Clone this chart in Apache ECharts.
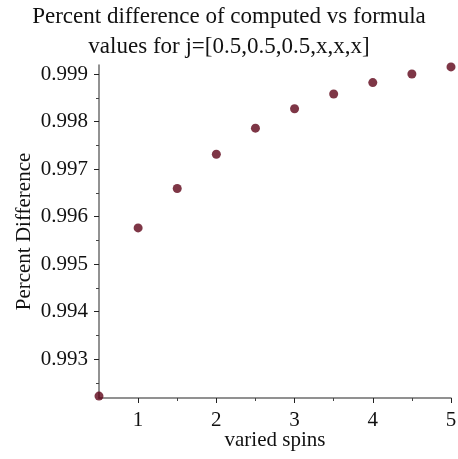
<!DOCTYPE html>
<html><head><meta charset="utf-8">
<script src="https://cdn.jsdelivr.net/npm/echarts@6/dist/echarts.min.js"></script>
<style>html,body{margin:0;padding:0;background:#fff}#c{width:458px;height:459px}</style>
</head><body><div id="c"></div>
<script>
const xValues = [0.5, 1, 1.5, 2, 2.5, 3, 3.5, 4, 4.5, 5];
const yValues = [0.99222, 0.99576, 0.99659, 0.99731, 0.99786, 0.99827, 0.99858, 0.99882, 0.99900, 0.99915];
const xMajorTicks = [1, 2, 3, 4, 5];
const xMinorTicks = [1.5, 2.5, 3.5, 4.5];
const yMajorTicks = [0.993, 0.994, 0.995, 0.996, 0.997, 0.998, 0.999];
const yMinorTicks = [0.9925, 0.9935, 0.9945, 0.9955, 0.9965, 0.9975, 0.9985];
const titleText = 'Percent difference of computed vs formula\nvalues for j=[0.5,0.5,0.5,x,x,x]';
const xName = 'varied spins';
const yName = 'Percent Difference';

const font = 'Liberation Serif';
const axisColor = '#6e6e6e';
const X_MIN = 0.5, X_MAX = 5, Y_MIN = 0.99218, Y_MAX = 0.99919;

const chart = echarts.init(document.getElementById('c'), null, {renderer: 'canvas'});
const baseX = {
  type: 'value', min: X_MIN, max: X_MAX, position: 'bottom',
  splitLine: {show: false}
};
const baseY = {
  type: 'value', min: Y_MIN, max: Y_MAX, position: 'left',
  splitLine: {show: false}
};
chart.setOption({
  animation: false,
  backgroundColor: '#fff',
  title: {
    text: titleText, left: 'center', top: -3,
    textStyle: {fontFamily: font, fontSize: 23, fontWeight: 'normal', color: '#111', lineHeight: 30}
  },
  grid: {left: 99, right: 7, top: 65, bottom: 61, containLabel: false, outerBoundsMode: 'none'},
  xAxis: [
    Object.assign({}, baseX, {
      name: xName, nameLocation: 'middle', nameGap: 32, nameMoveOverlap: false,
      nameTextStyle: {fontFamily: font, fontSize: 21, color: '#111'},
      axisLine: {show: true, onZero: false, lineStyle: {color: axisColor, width: 1.5}},
      axisTick: {show: true, customValues: xMajorTicks, length: 5, lineStyle: {color: '#222'}},
      axisLabel: {show: true, customValues: xMajorTicks, fontFamily: font, fontSize: 21, color: '#111', margin: 12}
    }),
    Object.assign({}, baseX, {
      axisLine: {show: false},
      axisTick: {show: true, customValues: xMinorTicks, length: 3, lineStyle: {color: '#444'}},
      axisLabel: {show: false}
    })
  ],
  yAxis: [
    Object.assign({}, baseY, {
      name: yName, nameLocation: 'middle', nameGap: 64, nameMoveOverlap: false,
      nameTextStyle: {fontFamily: font, fontSize: 21, color: '#111'},
      axisLine: {show: true, onZero: false, lineStyle: {color: axisColor, width: 1.5}},
      axisTick: {show: true, customValues: yMajorTicks, length: 5, lineStyle: {color: '#222'}},
      axisLabel: {show: true, customValues: yMajorTicks, fontFamily: font, fontSize: 21, color: '#111', margin: 11,
        formatter: v => v.toFixed(3)}
    }),
    Object.assign({}, baseY, {
      axisLine: {show: false},
      axisTick: {show: true, customValues: yMinorTicks, length: 3, lineStyle: {color: '#444'}},
      axisLabel: {show: false}
    })
  ],
  series: [{
    type: 'scatter', xAxisIndex: 0, yAxisIndex: 0,
    data: xValues.map((x, i) => [x, yValues[i]]),
    symbol: 'circle', symbolSize: 9,
    itemStyle: {color: '#5e0418'},
    clip: false
  }]
});
</script></body></html>
